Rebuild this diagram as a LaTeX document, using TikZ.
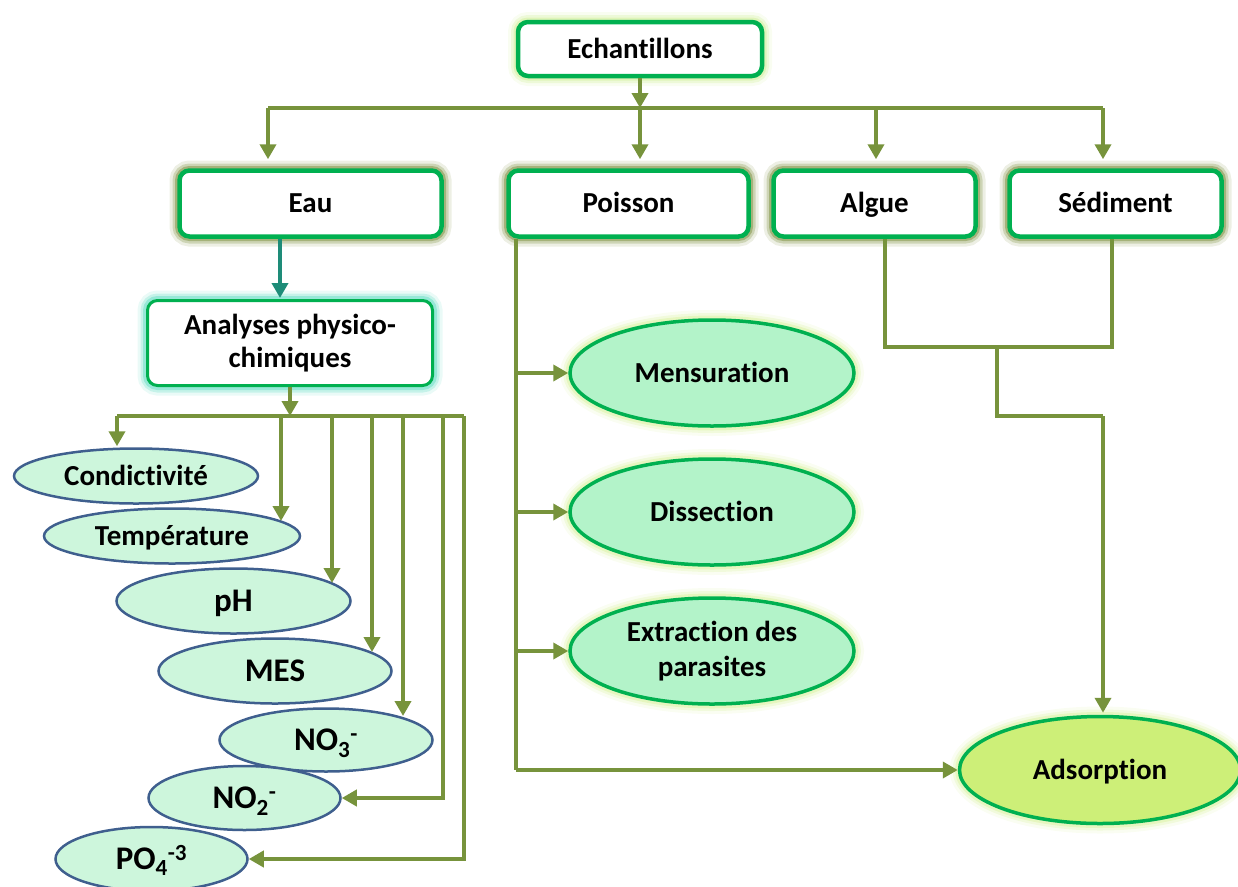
\documentclass[tikz,border=0pt]{standalone}
\usepackage{fontspec}
\setmainfont[Ligatures=NoCommon]{Carlito}
\usetikzlibrary{arrows.meta,shapes.geometric,calc}
\definecolor{olv}{HTML}{77933C}
\definecolor{grn}{HTML}{00B050}
\definecolor{mintL}{HTML}{CDF6DC}
\definecolor{mintM}{HTML}{B3F3C9}
\definecolor{limeA}{HTML}{CDEF78}
\definecolor{steelB}{HTML}{3F5F8E}
\definecolor{tealA}{HTML}{1E8C78}
\definecolor{glowO}{HTML}{84964A}
\definecolor{glowY}{HTML}{D4F0A0}
\definecolor{glowC}{HTML}{70E0C8}
\definecolor{glowL}{HTML}{DDF3A8}
\begin{document}
\begin{tikzpicture}[x=1pt,y=-1pt,
  ln/.style={draw=olv, line width=4.5pt},
  arr/.style={ln, -{Triangle[length=15pt,width=16pt]}},
  tarr/.style={draw=tealA, line width=4pt, -{Triangle[length=15pt,width=16pt]}},
  glow/.style={preaction={draw=#1,line width=20pt,opacity=0.15},
               preaction={draw=#1,line width=14pt,opacity=0.3},
               preaction={draw=#1,line width=9pt,opacity=0.55}},
  one/.style={text height=22pt, text depth=3.5pt},
  oneb/.style={text height=25pt, text depth=4pt},
  box/.style={rectangle, rounded corners=10pt, draw=grn, line width=4.5pt, fill=white,
              font=\bfseries\fontsize{29}{33}\selectfont, inner sep=0pt, align=center},
  lov/.style={ellipse, draw=steelB, line width=2.5pt, fill=mintL, inner sep=0pt, one,
              font=\bfseries\fontsize{29}{33}\selectfont},
  lovb/.style={lov, oneb, font=\bfseries\fontsize{33}{37}\selectfont},
  gov/.style={ellipse, draw=grn, line width=3.5pt, fill=mintM, inner sep=0pt,
              font=\bfseries\fontsize{29}{35}\selectfont, align=center, glow=glowL},
]
\useasboundingbox (0,0) rectangle (1238,886);

% boxes
\node[box, one, glow=glowY, minimum width=244pt, minimum height=54pt] (e) at (640,49) {Echantillons};
\node[box, one, glow=glowO, minimum width=262pt, minimum height=66pt] (eau) at (310.5,203.5) {Eau};
\node[box, one, glow=glowO, minimum width=240pt, minimum height=66pt] (poi) at (628.5,203.5) {Poisson};
\node[box, one, glow=glowO, minimum width=202pt, minimum height=66pt] (alg) at (874.5,203.5) {Algue};
\node[box, one, glow=glowO, minimum width=212pt, minimum height=66pt] (sed) at (1115.5,203.5) {Sédiment};
\node[box, glow=glowC, line width=3pt, minimum width=285pt, minimum height=85pt] (ana) at (290,343) {Analyses physico-\\chimiques};

% left ellipses
\node[lov, minimum width=244pt, minimum height=55pt] (c1) at (136,476) {Condictivité};
\node[lov, minimum width=256pt, minimum height=55pt] (c2) at (172,536) {Température};
\node[lovb, minimum width=234pt, minimum height=65pt] (c3) at (233.5,601) {pH};
\node[lovb, minimum width=233pt, minimum height=65pt] (c4) at (275,671) {MES};
\node[lovb, minimum width=213pt, minimum height=63pt] (c5) at (326,740) {NO\textsubscript{3}\textsuperscript{-}};
\node[lovb, minimum width=192pt, minimum height=64pt] (c6) at (244.5,798) {NO\textsubscript{2}\textsuperscript{-}};
\node[lovb, minimum width=192pt, minimum height=64pt] (c7) at (151.5,859) {PO\textsubscript{4}\textsuperscript{-3}};

% green ellipses
\node[gov, one, minimum width=284pt, minimum height=106pt] (men) at (712,373) {Mensuration};
\node[gov, one, minimum width=284pt, minimum height=106pt] (dis) at (712,512) {Dissection};
\node[gov, minimum width=284pt, minimum height=106pt] (ext) at (712,651) {Extraction des\\parasites};
\node[gov, one, fill=limeA, minimum width=281pt, minimum height=107pt] (ads) at (1100,770) {Adsorption};

% top connectors
\coordinate (t0) at (640,108);
\coordinate (t1) at (268,108);
\coordinate (t2) at (640,108);
\coordinate (t3) at (876,108);
\coordinate (t4) at (1103,108);
\draw[ln] (t1) -- (t4);
\draw[arr] (e.south) -- (t0);
\draw[arr, shorten >=9pt] (t1) -- (t1 |- eau.north);
\draw[arr, shorten >=9pt] (t2) -- (t2 |- poi.north);
\draw[arr, shorten >=9pt] (t3) -- (t3 |- alg.north);
\draw[arr, shorten >=9pt] (t4) -- (t4 |- sed.north);

% Eau -> analyses
\coordinate (ea) at (280,240);
\draw[tarr, shorten >=1pt] (ea |- eau.south) -- (ea |- ana.north);

% analyses bus
\coordinate (b0) at (290,416);
\coordinate (d1) at (117,416);
\coordinate (d2) at (281,416);
\coordinate (d3) at (332,416);
\coordinate (d4) at (372,416);
\coordinate (d5) at (403,416);
\coordinate (d6) at (443,416);
\coordinate (d7) at (464,416);
\draw[ln] (d1) -- (d7);
\draw[arr] (ana.south) -- (b0);
\draw[arr, shorten >=1pt] (d1) -- (d1 |- c1.north);
\draw[arr] (d2) -- ++(0,105);
\draw[arr] (d3) -- ++(0,167);
\draw[arr] (d4) -- ++(0,236);
\draw[arr] (d5) -- ++(0,300);
\draw[arr] (d6) |- (c6.east);
\draw[arr] (d7) |- (c7.east);

% Poisson branch
\coordinate (p0) at (516,240);
\draw[ln, line width=4pt] (p0 |- poi.south) -- (p0 |- ads.west);
\draw[arr, line width=4pt] (p0 |- ads.west) -- (ads.west);
\draw[arr, line width=4pt] (p0 |- men.west) -- (men.west);
\draw[arr, line width=4pt] (p0 |- dis.west) -- (dis.west);
\draw[arr, line width=4pt] (p0 |- ext.west) -- (ext.west);

% Algue / Sediment branch
\coordinate (a0) at (885,347);
\coordinate (s0) at (1112,347);
\coordinate (m0) at (997,347);
\coordinate (m1) at (997,416);
\coordinate (m2) at (1103,416);
\draw[ln] (a0 |- alg.south) -- (a0) -- (s0) -- (s0 |- sed.south);
\draw[ln] (m0) -- (m1) -- (m2);
\draw[arr, shorten >=2pt] (m2) -- (m2 |- ads.north);
\end{tikzpicture}
\end{document}
